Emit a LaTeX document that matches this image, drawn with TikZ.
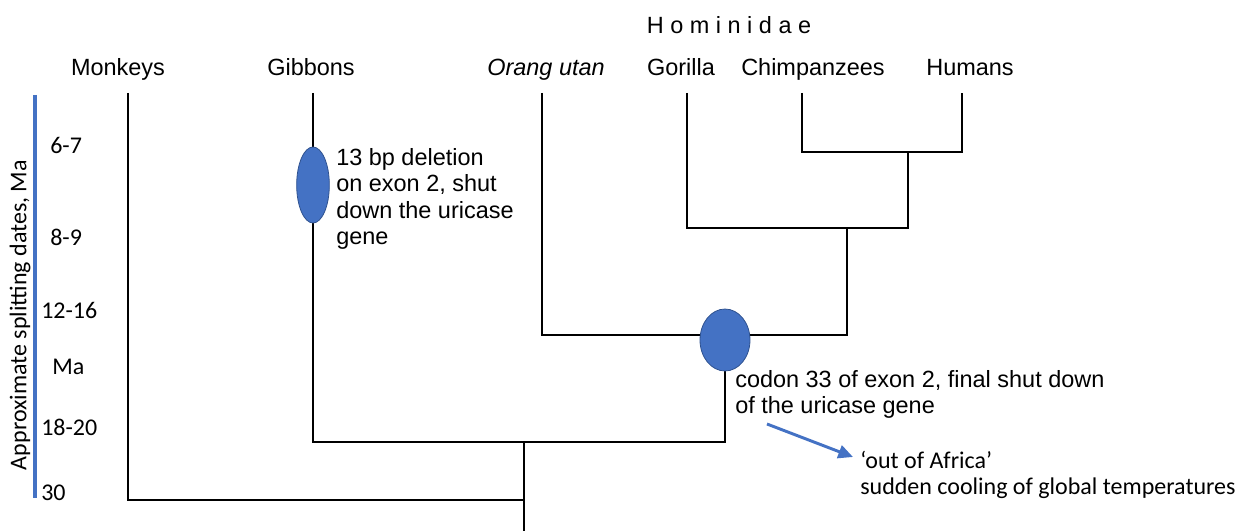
\documentclass[tikz,border=0pt]{standalone}
\usepackage{fontspec}
\setmainfont{Liberation Sans}
\newfontfamily\calib{Carlito}
\usetikzlibrary{shapes.geometric,arrows.meta}
\definecolor{mblue}{HTML}{4472C4}
\definecolor{mborder}{HTML}{2F528F}
\begin{document}
\begin{tikzpicture}[x=0.75pt,y=-0.75pt,
  tree/.style={line width=1pt, draw=black},
  lab/.style={font=\fontsize{17.6}{20}\selectfont, inner sep=0pt, anchor=base},
  note/.style={font=\fontsize{17.6}{19.8}\selectfont, inner sep=0pt, anchor=north west, align=left},
  cnote/.style={font=\calib\fontsize{18}{19.5}\selectfont, inner sep=0pt, anchor=north west, align=left},
  num/.style={font=\calib\fontsize{18}{20}\selectfont, inner sep=0pt, anchor=west},
  mut/.style={ellipse, fill=mblue, draw=mborder, line width=0.6pt, inner sep=0pt},
  axis/.style={draw=mblue, line width=2.6pt},
  pointer/.style={draw=mblue, line width=2.2pt, -{Triangle[length=11pt,width=10pt]}}
]
\useasboundingbox (0,0) rectangle (1246,531);

% group label
\node[lab] (hom) at (729,34) {H o m i n i d a e};

% taxon labels
\node[lab] (lMonk) at (118,76) {Monkeys};
\node[lab] (lGib) at (311,76) {Gibbons};
\node[lab] (lOrang) at (546,76) {\itshape Orang utan};
\node[lab] (lGor) at (681,76) {Gorilla};
\node[lab] (lChimp) at (813,76) {Chimpanzees};
\node[lab] (lHum) at (970,76) {Humans};

% tree coordinates
\coordinate (tipM) at (128,93);
\coordinate (tipG) at (313,93);
\coordinate (tipO) at (542,93);
\coordinate (tipGo) at (687,93);
\coordinate (tipC) at (802,93);
\coordinate (tipH) at (962,93);
\coordinate (jCH) at (908,152);
\coordinate (jGCH) at (847,228);
\coordinate (jOG) at (725,335);
\coordinate (jGib) at (524,442);
\coordinate (jRoot) at (524,500);
\coordinate (stem) at (524,531);

% tree branches
\draw[tree] (tipC) |- (jCH) -| (tipH);
\draw[tree] (tipGo) |- (jGCH) -| (jCH);
\draw[tree] (tipO) |- (jOG) -| (jGCH);
\draw[tree] (tipG) |- (jGib) -| (jOG);
\draw[tree] (tipM) |- (jRoot) -- (jGib);
\draw[tree] (jRoot) -- (stem);

% mutation events
\node[mut, minimum width=24.5pt, minimum height=57pt] (m1) at (313,185) {};
\node[mut, minimum width=37.5pt, minimum height=46.5pt] (m2) at (725,340) {};

\node[note] (t1) at (336,148) {13 bp deletion\\on exon 2, shut\\down the uricase\\gene};
\node[note] (t2) at (735,370) {codon 33 of exon 2, final shut down\\of the uricase gene};

% arrow to consequence
\coordinate (a1) at (767,424);
\coordinate (a2) at (853,457);
\draw[pointer] (a1) -- (a2);
\node[cnote] (t3) at (860,451) {‘out of Africa’\\sudden cooling of global temperatures};

% time axis
\coordinate (axTop) at (35,95);
\coordinate (axBot) at (35,498);
\draw[axis] (axTop) -- (axBot);
\node[font=\calib\fontsize{18}{20}\selectfont, rotate=90, inner sep=0pt] (axlab) at (20,315) {Approximate splitting dates, Ma};
\node[num] (d1) at (50,145) {6-7};
\node[num] (d2) at (50,237) {8-9};
\node[num] (d3) at (41,310) {12-16};
\node[num] (d4) at (52,367) {Ma};
\node[num] (d5) at (41,427) {18-20};
\node[num] (d6) at (41,493) {30};
\end{tikzpicture}
\end{document}
